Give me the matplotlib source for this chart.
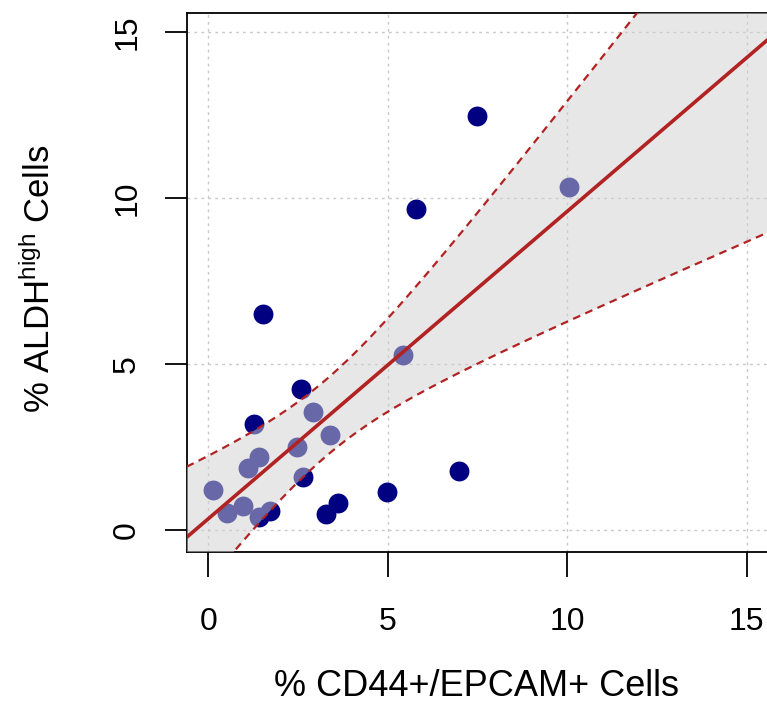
import numpy as np
import matplotlib
matplotlib.use("Agg")
import matplotlib.pyplot as plt

plt.rcParams['font.family'] = ['Liberation Sans', 'DejaVu Sans']
plt.rcParams['mathtext.fontset'] = 'custom'
plt.rcParams['mathtext.rm'] = 'Liberation Sans'
plt.rcParams['mathtext.it'] = 'Liberation Sans:italic'

# % CD44+/EPCAM+ cells vs % ALDH-high cells
cd44_epcam = [7.49, 10.06, 5.79, 1.54, 5.44, 2.59, 2.91, 1.27, 3.38, 2.47, 1.42,
              1.12, 0.13, 2.65, 7.00, 4.99, 3.63, 3.28, 0.52, 0.98, 1.43, 1.71]
aldh_high = [12.48, 10.34, 9.68, 6.51, 5.28, 4.24, 3.56, 3.20, 2.87, 2.52, 2.20,
             1.87, 1.21, 1.61, 1.79, 1.14, 0.81, 0.48, 0.51, 0.73, 0.39, 0.59]
ticks = [0, 5, 10, 15]

x = np.array(cd44_epcam)
y = np.array(aldh_high)

# linear fit + 95% confidence band of the mean
n = len(x)
slope, intercept = np.polyfit(x, y, 1)
resid = y - (intercept + slope * x)
s = np.sqrt(np.sum(resid ** 2) / (n - 2))
sxx = np.sum((x - x.mean()) ** 2)
t_crit = 2.086  # t(0.975, df=20)

xlim = (-0.6, 15.6)
ylim = (-0.65, 15.57)
xs = np.linspace(xlim[0] - 1, xlim[1] + 1, 200)
fit = intercept + slope * xs
half = t_crit * s * np.sqrt(1 / n + (xs - x.mean()) ** 2 / sxx)

fig = plt.figure(figsize=(7.67, 7.17), dpi=100)
ax = fig.add_axes([0.2433, 0.2304, 0.7583, 0.7510])

ax.set_xlim(*xlim)
ax.set_ylim(*ylim)
ax.set_xticks(ticks)
ax.set_yticks(ticks)
ax.grid(True, color='#c8c8c8', linestyle=(0, (2, 3)), linewidth=1.0)
ax.set_axisbelow(True)

ax.scatter(x, y, s=205, color='#000080', linewidths=0, zorder=2)
ax.fill_between(xs, fit - half, fit + half, color='#d1d1d1', alpha=0.5,
                linewidth=0, zorder=3)
ax.plot(xs, fit, color='#b22222', linewidth=2.6, zorder=4)
ax.plot(xs, fit + half, color='#b22222', linewidth=1.6, dashes=(3.5, 2.5), zorder=4)
ax.plot(xs, fit - half, color='#b22222', linewidth=1.6, dashes=(3.5, 2.5), zorder=4)

for sp in ax.spines.values():
    sp.set_linewidth(1.3)
    sp.set_color('black')

ax.tick_params(axis='both', direction='out', width=1.3,
               labelsize=23, color='black')
ax.tick_params(axis='x', length=18, pad=22)
ax.tick_params(axis='y', length=16, pad=16)
for lab in ax.get_yticklabels():
    lab.set_rotation(90)
    lab.set_va('center')

fig.text(477 / 767, 1 - 696 / 717, '% CD44+/EPCAM+ Cells', fontsize=26,
         ha='center', va='baseline')
fig.text(50 / 767, 1 - 279 / 717, r'% ALDH$^{\mathrm{high}}$ Cells', fontsize=25,
         rotation=90, rotation_mode='anchor', ha='center', va='baseline')

fig.savefig('out.png', dpi=100)
